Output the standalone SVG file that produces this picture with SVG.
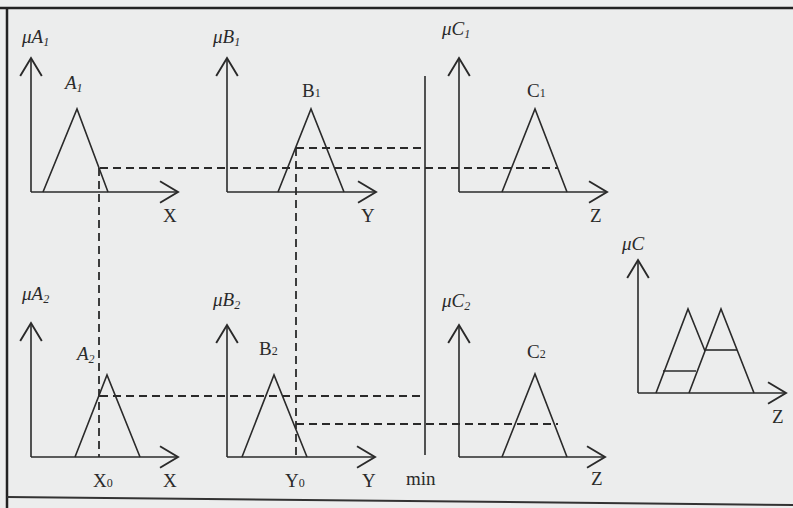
<svg xmlns="http://www.w3.org/2000/svg" width="793" height="508" viewBox="0 0 793 508">
<style>
.ln{fill:none;stroke:#2a2a2a;stroke-width:1.6;stroke-linejoin:miter}
.ax{fill:none;stroke:#2a2a2a;stroke-width:1.6}
.ds{fill:none;stroke:#2a2a2a;stroke-width:1.8;stroke-dasharray:8 5}
.t{font-family:"Liberation Serif","Times New Roman",serif;fill:#2a2a2a;font-size:19px}
.mu{font-family:"Liberation Serif","Times New Roman",serif;fill:#2a2a2a;font-size:19px;font-style:italic}
.s{font-size:12px}
</style>
<defs>
<marker id="ar" markerUnits="userSpaceOnUse" markerWidth="24" markerHeight="24" viewBox="-16 -10 20 20" refX="0" refY="0" orient="auto">
<path d="M-15,-9 L0,0 L-15,9" fill="none" stroke="#2a2a2a" stroke-width="1.6"/>
</marker>
</defs>
<rect width="793" height="508" fill="#eceded"/>
<g id="frame">
<line x1="0" y1="8" x2="793" y2="8" stroke="#222" stroke-width="2.5"/>
<line x1="7" y1="8" x2="7" y2="508" stroke="#222" stroke-width="2.5"/>
<line x1="7" y1="497" x2="793" y2="505" stroke="#333" stroke-width="2"/>
</g>

<g id="panelA1">
<line class="ax" x1="31" y1="192" x2="31" y2="58" marker-end="url(#ar)"/>
<line class="ax" x1="31" y1="192" x2="178" y2="192" marker-end="url(#ar)"/>
<polyline class="ln" points="43,192 77,109 108,192"/>
<text class="mu" x="22" y="43">μA<tspan class="s" dy="3">1</tspan></text>
<text class="mu" x="65" y="89">A<tspan class="s" dy="3">1</tspan></text>
<text class="t" x="163" y="222">X</text>
</g>

<g id="panelB1">
<line class="ax" x1="227" y1="192" x2="227" y2="58" marker-end="url(#ar)"/>
<line class="ax" x1="227" y1="192" x2="376" y2="192" marker-end="url(#ar)"/>
<polyline class="ln" points="278,192 311,109 344,192"/>
<text class="mu" x="213" y="43">μB<tspan class="s" dy="3">1</tspan></text>
<text class="t" x="302" y="97">B<tspan class="s" dy="0">1</tspan></text>
<text class="t" x="361" y="222">Y</text>
</g>

<g id="panelC1">
<line class="ax" x1="459" y1="192" x2="459" y2="58" marker-end="url(#ar)"/>
<line class="ax" x1="459" y1="192" x2="607" y2="192" marker-end="url(#ar)"/>
<polyline class="ln" points="502,192 535,109 567,192"/>
<text class="mu" x="442" y="35">μC<tspan class="s" dy="3">1</tspan></text>
<text class="t" x="527" y="97">C<tspan class="s" dy="0">1</tspan></text>
<text class="t" x="590" y="222">Z</text>
</g>

<g id="panelA2">
<line class="ax" x1="31" y1="457" x2="31" y2="323" marker-end="url(#ar)"/>
<line class="ax" x1="31" y1="457" x2="178" y2="457" marker-end="url(#ar)"/>
<polyline class="ln" points="75,457 107,375 140,457"/>
<text class="mu" x="22" y="300">μA<tspan class="s" dy="3">2</tspan></text>
<text class="mu" x="77" y="360">A<tspan class="s" dy="3">2</tspan></text>
<text class="t" x="93" y="487">X<tspan class="s" dy="0">0</tspan></text>
<text class="t" x="163" y="487">X</text>
</g>

<g id="panelB2">
<line class="ax" x1="227" y1="457" x2="227" y2="325" marker-end="url(#ar)"/>
<line class="ax" x1="227" y1="457" x2="375" y2="457" marker-end="url(#ar)"/>
<polyline class="ln" points="242,457 274,375 307,457"/>
<text class="mu" x="213" y="306">μB<tspan class="s" dy="3">2</tspan></text>
<text class="t" x="259" y="355">B<tspan class="s" dy="0">2</tspan></text>
<text class="t" x="285" y="487">Y<tspan class="s" dy="0">0</tspan></text>
<text class="t" x="362" y="487">Y</text>
</g>

<g id="panelC2">
<line class="ax" x1="459" y1="457" x2="459" y2="325" marker-end="url(#ar)"/>
<line class="ax" x1="459" y1="457" x2="605" y2="457" marker-end="url(#ar)"/>
<polyline class="ln" points="502,457 535,374 567,457"/>
<text class="mu" x="442" y="307">μC<tspan class="s" dy="3">2</tspan></text>
<text class="t" x="527" y="358">C<tspan class="s" dy="0">2</tspan></text>
<text class="t" x="591" y="485">Z</text>
</g>

<g id="minOperator">
<line class="ax" x1="425" y1="76" x2="425" y2="455"/>
<text class="t" x="406" y="485">min</text>
</g>

<g id="panelResult">
<line class="ax" x1="638" y1="393" x2="638" y2="260" marker-end="url(#ar)"/>
<line class="ax" x1="638" y1="393" x2="786" y2="393" marker-end="url(#ar)"/>
<polyline class="ln" points="656,393 688,309 705,351"/>
<polyline class="ln" points="689,393 721,309 754,393"/>
<line class="ln" x1="663" y1="371" x2="696" y2="371"/>
<line class="ln" x1="705" y1="350" x2="737" y2="350"/>
<text class="mu" x="622" y="250">μC</text>
<text class="t" x="772" y="423">Z</text>
</g>

<g id="connectors">
<line class="ds" x1="99" y1="168" x2="99" y2="457"/>
<line class="ds" x1="100" y1="168" x2="558" y2="168"/>
<line class="ds" x1="296" y1="148" x2="296" y2="457"/>
<line class="ds" x1="296" y1="148" x2="425" y2="148"/>
<line class="ds" x1="100" y1="396" x2="425" y2="396"/>
<line class="ds" x1="296" y1="424" x2="558" y2="424"/>
</g>
</svg>
